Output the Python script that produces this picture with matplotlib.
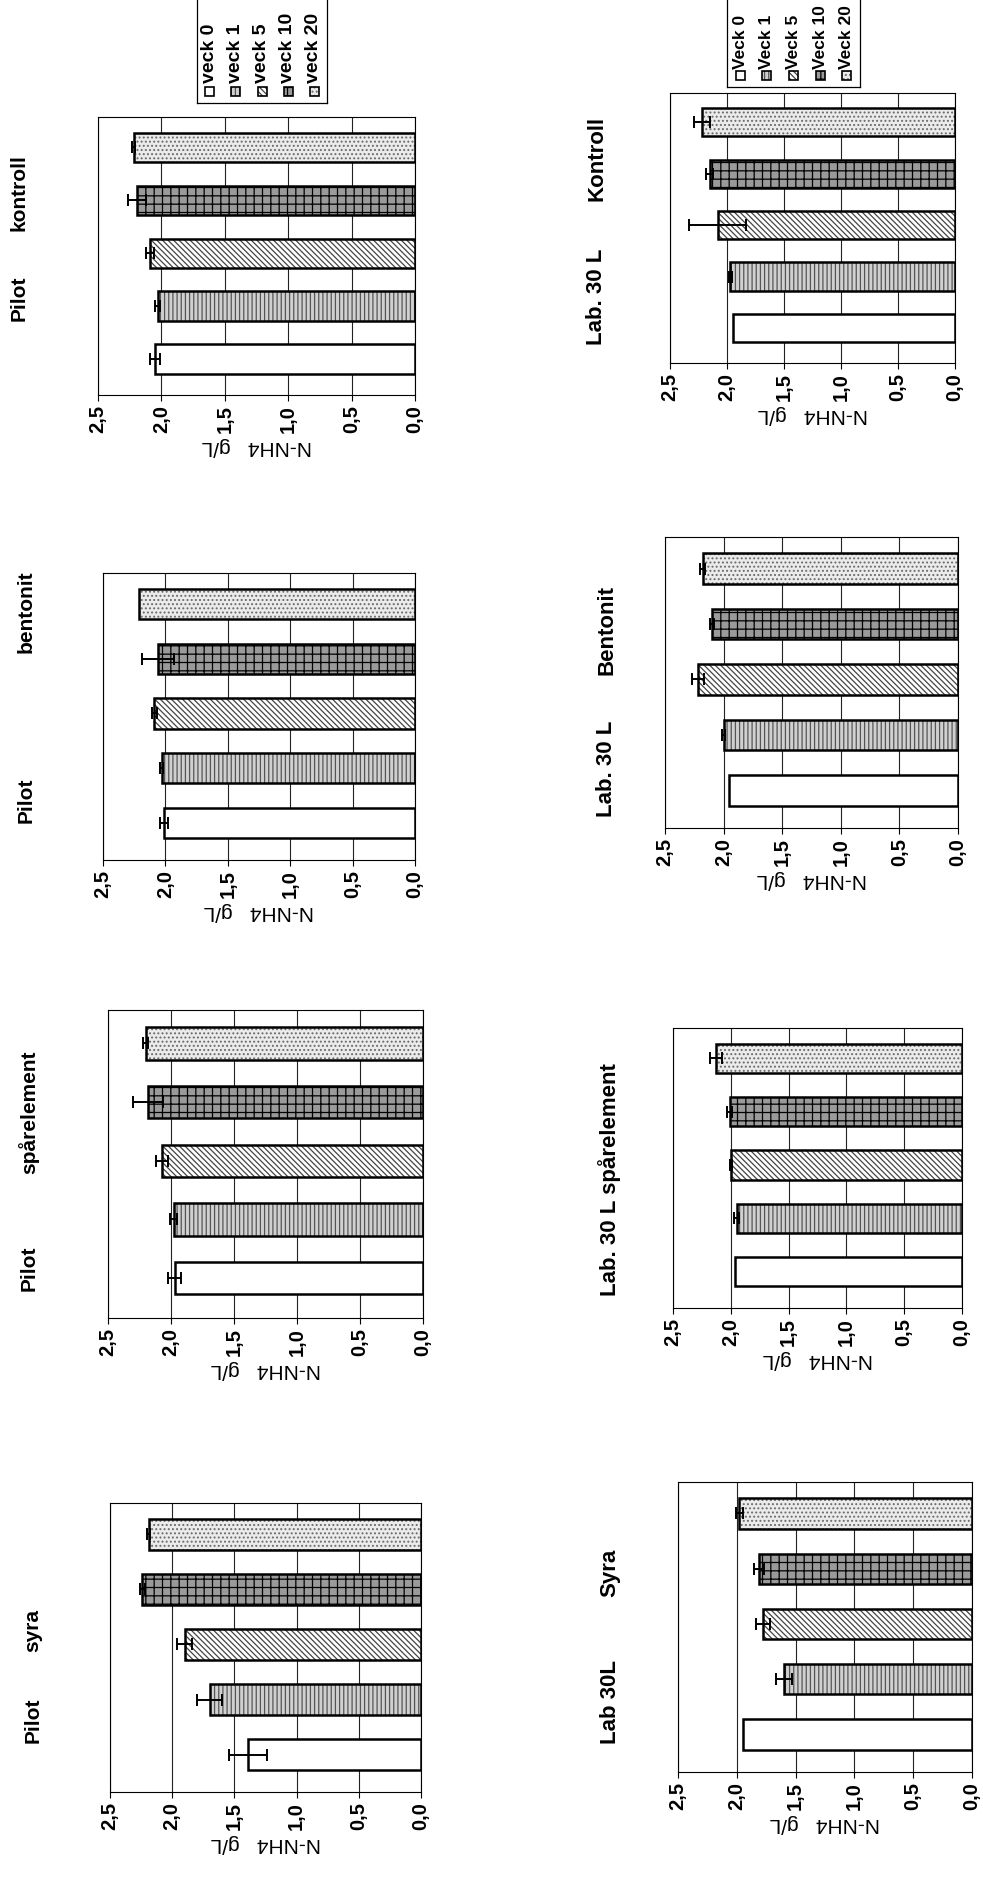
import matplotlib.pyplot as plt
import matplotlib.patches as mpatches
import numpy as np

plt.rcParams['font.family'] = ['Liberation Sans', 'DejaVu Sans']
plt.rcParams['font.weight'] = 'bold'
plt.rcParams['hatch.linewidth'] = 0.9

W, H = 983, 1879

# veckor (legend)
weeks_pilot = ['veck 0', 'veck 1', 'veck 5', 'veck 10', 'veck 20']
weeks_lab = ['Veck 0', 'Veck 1', 'Veck 5', 'Veck 10', 'Veck 20']

# N-NH4 g/L, veck 0 -> veck 20
pilot_kontroll = [2.05, 2.03, 2.09, 2.19, 2.22]
pilot_kontroll_err = [0.04, 0.02, 0.03, 0.07, 0.01]
pilot_bentonit = [2.01, 2.03, 2.09, 2.06, 2.21]
pilot_bentonit_err = [0.03, 0.01, 0.02, 0.13, 0.0]
pilot_spar = [1.97, 1.98, 2.07, 2.18, 2.20]
pilot_spar_err = [0.05, 0.03, 0.05, 0.12, 0.02]
pilot_syra = [1.39, 1.70, 1.90, 2.24, 2.19]
pilot_syra_err = [0.15, 0.10, 0.06, 0.02, 0.01]

lab_kontroll = [1.95, 1.97, 2.08, 2.15, 2.22]
lab_kontroll_err = [0.0, 0.01, 0.25, 0.03, 0.07]
lab_bentonit = [1.95, 2.00, 2.22, 2.10, 2.18]
lab_bentonit_err = [0.0, 0.01, 0.05, 0.02, 0.02]
lab_spar = [1.96, 1.95, 2.00, 2.01, 2.13]
lab_spar_err = [0.0, 0.02, 0.01, 0.02, 0.05]
lab_syra = [1.95, 1.60, 1.78, 1.81, 1.98]
lab_syra_err = [0.0, 0.07, 0.06, 0.04, 0.03]

ticks = [0, 0.5, 1.0, 1.5, 2.0, 2.5]
tick_labels = ['0,0', '0,5', '1,0', '1,5', '2,0', '2,5']
ylab = 'N-NH4   g/L'

# stil per vecka
styles = [
    dict(fc='white', hc='#cccccc', hatch=''),
    dict(fc='#d0d0d0', hc='#555555', hatch='||||'),
    dict(fc='white', hc='#444444', hatch='\\\\\\\\\\\\'),
    dict(fc='#9a9a9a', hc='black', hatch='++'),
    dict(fc='#ebebeb', hc='#6a6a6a', hatch='....'),
]

fig = plt.figure(figsize=(W / 100, H / 100), dpi=100)


def rect(x0, x1, y0, y1):
    return [x0 / W, 1 - y1 / H, (x1 - x0) / W, (y1 - y0) / H]


def chart(box, vals, errs):
    ax = fig.add_axes(rect(*box))
    pos = np.arange(len(vals))
    for p, v, st in zip(pos, vals, styles):
        ax.barh(p, v, height=0.55, color=st['fc'], edgecolor=st['hc'],
                hatch=st['hatch'], linewidth=0, zorder=2)
    ax.barh(pos, vals, height=0.55, fill=False, edgecolor='black',
            linewidth=1.8, zorder=3)
    errs = np.array(errs)
    m = errs > 0
    ax.errorbar(np.array(vals)[m], pos[m], xerr=errs[m], fmt='none',
                ecolor='black', elinewidth=1.4, capsize=4.5, capthick=1.4,
                zorder=4)
    ax.set_xlim(2.5, 0)
    ax.set_ylim(-0.68, 4.57)
    ax.set_xticks(ticks)
    ax.set_xticklabels(tick_labels, rotation=90, fontsize=14.5)
    ax.set_yticks([])
    ax.tick_params(axis='x', direction='out', length=4, width=0.8, pad=3)
    ax.xaxis.grid(True, color='#222222', linewidth=0.8)
    ax.set_axisbelow(True)
    for s in ax.spines.values():
        s.set_linewidth(0.8)
    ax.set_xlabel(ylab, rotation=180, fontsize=15, labelpad=3)
    return ax


def legend(x0, x1, y1, labels, fsize, gap):
    lax = fig.add_axes(rect(x0, x1, -40, y1))
    lax.set_xlim(x0, x1)
    lax.set_ylim(y1, -40)
    lax.set_xticks([])
    lax.set_yticks([])
    for s in lax.spines.values():
        s.set_linewidth(0.9)
    step = (x1 - x0) / len(labels)
    for i, (lab, st) in enumerate(zip(labels, styles)):
        cx = x0 + step * (i + 0.5)
        lax.add_patch(mpatches.Rectangle((cx - 4.5, y1 - 16), 9, 9,
                                         facecolor=st['fc'], edgecolor=st['hc'],
                                         hatch=st['hatch'], linewidth=0))
        lax.add_patch(mpatches.Rectangle((cx - 4.5, y1 - 16), 9, 9,
                                         fill=False, edgecolor='black',
                                         linewidth=1.2))
        lax.text(cx, y1 - gap, lab, rotation=90, ha='center', va='bottom',
                 fontsize=fsize)


# Pilot (vänster kolumn)
chart((98, 415, 117, 395), pilot_kontroll, pilot_kontroll_err)
chart((103, 415, 573, 860), pilot_bentonit, pilot_bentonit_err)
chart((108, 423, 1010, 1318), pilot_spar, pilot_spar_err)
chart((110, 421, 1503, 1792), pilot_syra, pilot_syra_err)

# Lab 30 L (höger kolumn)
chart((670, 955, 93, 363), lab_kontroll, lab_kontroll_err)
chart((665, 958, 537, 828), lab_bentonit, lab_bentonit_err)
chart((673, 962, 1028, 1308), lab_spar, lab_spar_err)
chart((678, 972, 1482, 1772), lab_syra, lab_syra_err)

legend(197, 327, 103, weeks_pilot, 14, 20)
legend(727, 860, 87, weeks_lab, 12.5, 18)

# rubriker
titles_pilot = [('Pilot', 19, 298), ('kontroll', 19, 193),
                ('Pilot', 26, 800), ('bentonit', 26, 612),
                ('Pilot', 29, 1268), ('spårelement', 29, 1112),
                ('Pilot', 33, 1720), ('syra', 33, 1630)]
titles_lab = [('Lab. 30 L', 597, 297), ('Kontroll', 597, 158),
              ('Lab. 30 L', 607, 769), ('Bentonit', 607, 630),
              ('Lab. 30 L spårelement', 610, 1180),
              ('Lab 30L', 610, 1702), ('Syra', 610, 1573)]
for s, x, y in titles_pilot:
    fig.text(x / W, 1 - y / H, s, rotation=90, ha='center', va='center',
             fontsize=15)
for s, x, y in titles_lab:
    fig.text(x / W, 1 - y / H, s, rotation=90, ha='center', va='center',
             fontsize=16)

fig.savefig('out.png', dpi=100)
